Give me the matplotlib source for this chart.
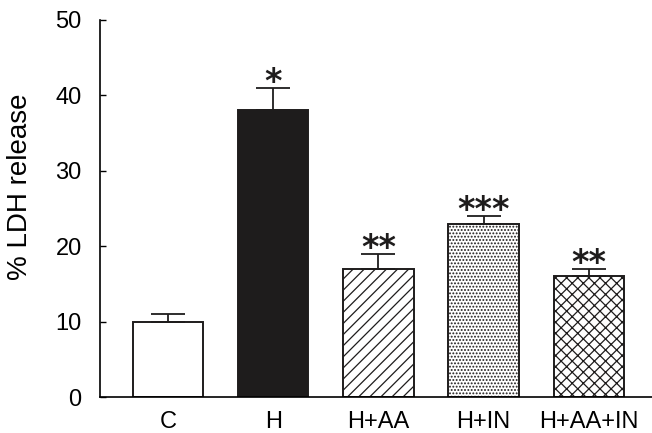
import matplotlib
matplotlib.use('Agg')
import matplotlib.pyplot as plt

################################################################
groups = ['C', 'H', 'H+AA', 'H+IN', 'H+AA+IN']
ldh = [10, 38, 17, 23, 16]
sem = [1, 3, 2, 1, 1]
stars = ['', '*', '**', '***', '**']
################################################################

plt.rcParams['font.family'] = ['Liberation Sans', 'DejaVu Sans']
plt.rcParams['hatch.linewidth'] = 0.9

fig = plt.figure(figsize=(6.52, 4.33), dpi=100)
ax = fig.add_axes([0.153, 0.083, 0.847, 0.871])

fills = ['white', '#1e1c1c', 'white', 'white', 'white']
hatches = [None, None, '///', '.....', 'xxx']
x = list(range(len(groups)))

for i in x:
    ax.bar(i, ldh[i], width=0.67, color=fills[i], edgecolor='#1e1c1c',
           hatch=hatches[i], linewidth=1.4, zorder=2)
ax.errorbar(x, ldh, yerr=[[0] * len(sem), sem], fmt='none', ecolor='#1e1c1c',
            elinewidth=1.3, capsize=12.5, capthick=1.3, zorder=3)

for i in x:
    if stars[i]:
        ax.annotate(stars[i], (i, ldh[i] + sem[i]), xytext=(0, -8),
                    textcoords='offset points', ha='center', va='bottom',
                    fontsize=24, fontweight='bold', family='DejaVu Sans',
                    color='#1e1c1c')

ax.set_xlim(-0.648, 4.6)
ax.set_ylim(0, 50)
ax.set_yticks([0, 10, 20, 30, 40, 50])
ax.set_xticks(x)
ax.set_xticklabels(groups)
ax.tick_params(axis='y', direction='in', length=4, width=1, labelsize=17, pad=13)
ax.tick_params(axis='x', length=0, labelsize=17, pad=10)
ax.set_ylabel('% LDH release', fontsize=20)
ax.yaxis.set_label_coords(-0.121, 0.558)

ax.spines['top'].set_visible(False)
ax.spines['right'].set_visible(False)
ax.spines['left'].set_linewidth(1.2)
ax.spines['bottom'].set_linewidth(1.2)

plt.savefig('out.png', dpi=100)
